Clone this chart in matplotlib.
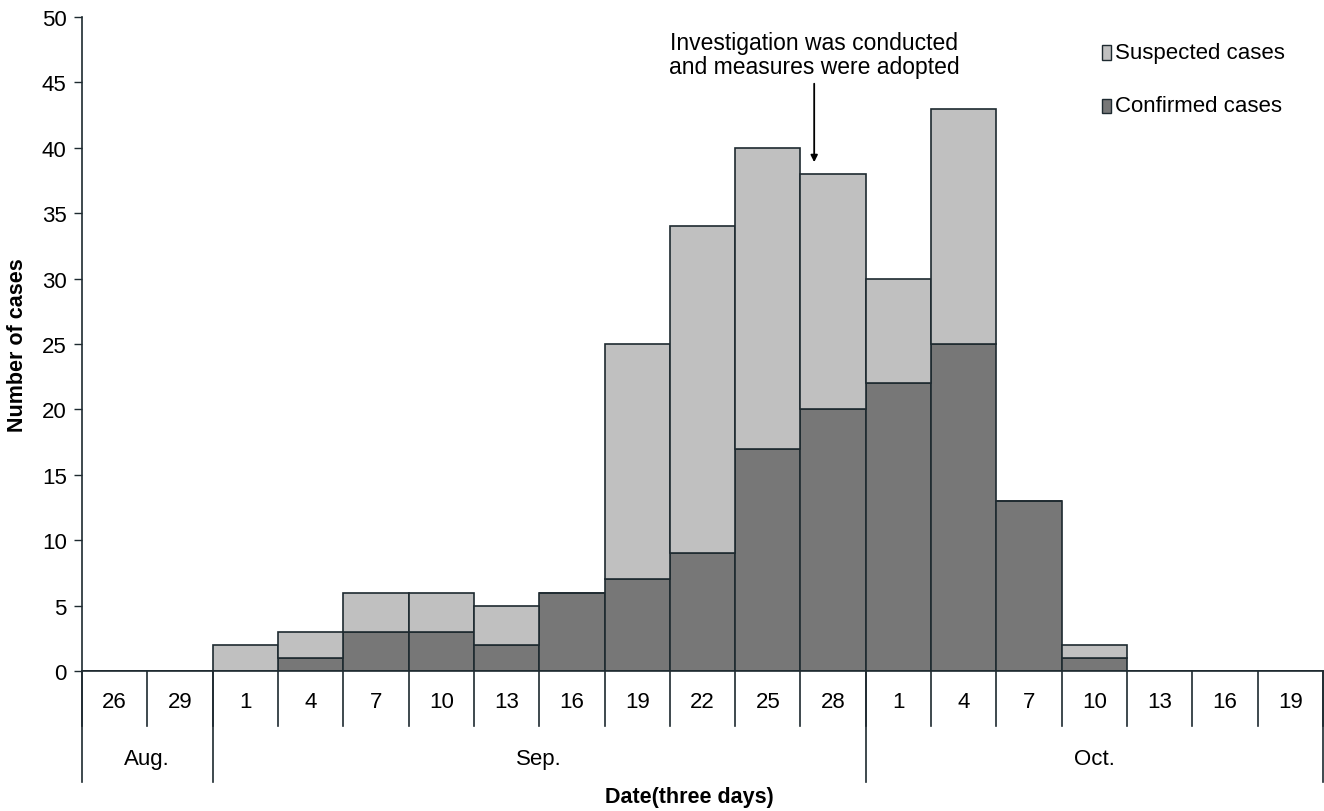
import matplotlib.pyplot as plt
from matplotlib.transforms import blended_transform_factory
from matplotlib import font_manager
import numpy as np

names = {f.name for f in font_manager.fontManager.ttflist}
main_font = 'Liberation Sans Narrow' if 'Liberation Sans Narrow' in names else 'Liberation Sans'
plt.rcParams['font.family'] = [main_font, 'DejaVu Sans']

# data: three-day periods from 26 Aug to 19 Oct
days = ['26', '29', '1', '4', '7', '10', '13', '16', '19', '22', '25', '28',
        '1', '4', '7', '10', '13', '16', '19']
months = ['Aug.', 'Sep.', 'Oct.']
month_bounds = [0, 2, 12, 19]  # period index where each month starts / ends
confirmed = [0, 0, 0, 1, 3, 3, 2, 6, 7, 9, 17, 20, 22, 25, 13, 1, 0, 0, 0]
total = [0, 0, 2, 3, 6, 6, 5, 6, 25, 34, 40, 38, 30, 43, 13, 2, 0, 0, 0]
suspected = [t - c for t, c in zip(total, confirmed)]

light = '#c0c0c0'
dark = '#777777'
edge = '#1e2a30'

fig = plt.figure(figsize=(13.24, 8.12), dpi=100)
ax = fig.add_axes([82 / 1324, 1 - 672 / 812, 1241 / 1324, 654 / 812])

x = np.arange(len(days))
ax.bar(x, confirmed, width=1, align='edge', color=dark, edgecolor=edge, linewidth=1.2)
ax.bar(x, suspected, width=1, bottom=confirmed, align='edge', color=light,
       edgecolor=edge, linewidth=1.2)

ax.set_xlim(0, len(days))
ax.set_ylim(0, 50)
ax.set_yticks(range(0, 51, 5))
ax.tick_params(axis='y', direction='out', length=6, width=1, labelsize=16, color=edge, pad=5)
ax.set_xticks([])
for s in ['top', 'right']:
    ax.spines[s].set_visible(False)
ax.spines['left'].set_color(edge)
ax.spines['bottom'].set_color(edge)
ax.spines['left'].set_linewidth(1.2)
ax.spines['bottom'].set_linewidth(1.2)

# category table under the axis
trans = blended_transform_factory(ax.transData, ax.transAxes)
px = 1 / 654  # one pixel in axes fraction (vertical)
for i in range(len(days) + 1):
    ax.plot([i, i], [0, -55 * px], color=edge, lw=1.2, transform=trans, clip_on=False)
for b in month_bounds:
    ax.plot([b, b], [0, -111 * px], color=edge, lw=1.2, transform=trans, clip_on=False)
for i, d in enumerate(days):
    ax.text(i + 0.5, -31 * px, d, ha='center', va='center', fontsize=16,
            transform=trans)
for m, a, b in zip(months, month_bounds[:-1], month_bounds[1:]):
    ax.text((a + b) / 2, -88 * px, m, ha='center', va='center', fontsize=16,
            transform=trans)

ax.text(len(days) / 2 - 0.2, -126 * px, 'Date(three days)', ha='center', va='center',
        fontsize=15.5, fontweight='bold', transform=trans)
ax.set_ylabel('Number of cases', fontsize=15.5, fontweight='bold', labelpad=10)

# annotation
ax.text(11.21, 47.1, 'Investigation was conducted\nand measures were adopted',
        ha='center', va='center', fontsize=16.5, linespacing=1.05)
ax.annotate('', xy=(11.21, 38.9), xytext=(11.21, 44.9),
            arrowprops=dict(arrowstyle='-|>', color='black', lw=1.3,
                            shrinkA=0, shrinkB=0, mutation_scale=10))

# legend
for lab, col, yy in [('Suspected cases', light, 47.3), ('Confirmed cases', dark, 43.2)]:
    ax.add_patch(plt.Rectangle((15.62, yy - 0.55), 0.14, 1.1, facecolor=col,
                               edgecolor=edge, lw=1, clip_on=False))
    ax.text(15.82, yy, lab, ha='left', va='center', fontsize=16)

fig.savefig('out.png', dpi=100)
